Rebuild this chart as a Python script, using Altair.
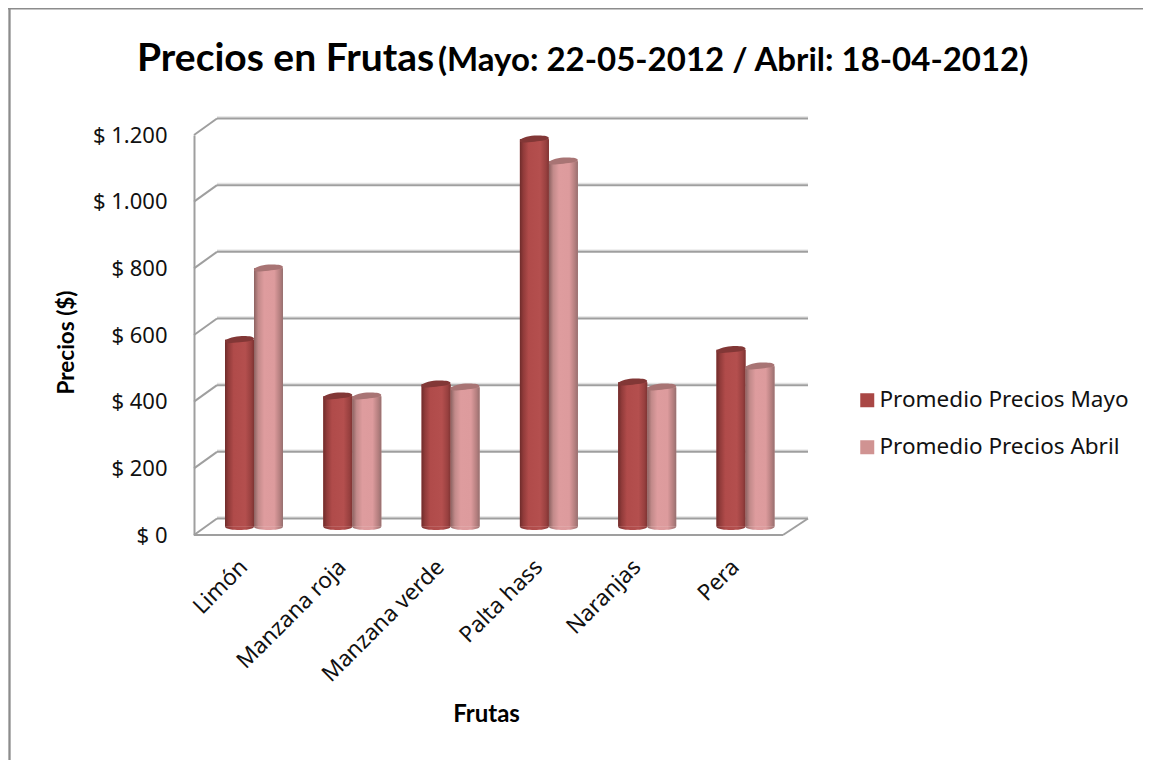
import altair as alt
import pandas as pd

categories = ["Limón", "Manzana roja", "Manzana verde", "Palta hass", "Naranjas", "Pera"]
mayo = [560, 391, 427, 1162, 433, 530]
abril = [775, 391, 418, 1096, 418, 481]
series = ["Promedio Precios Mayo", "Promedio Precios Abril"]
ticks = [0, 200, 400, 600, 800, 1000, 1200]
title_main = "Precios en Frutas"
title_sub = "(Mayo: 22-05-2012 / Abril: 18-04-2012)"
y_title = "Precios ($)"
x_title = "Frutas"

FONT = "Lato"
LABEL_FONT = "Noto Sans"
GRID = "#9f9f9f"
W, H = 614, 400
FRONT_W = 589
BACK_X = 23
DEPTH = 16.5
MID = 8.5
BAR_PX = 29

df = pd.DataFrame(
    [{"cat": c, "serie": series[0], "v": v} for c, v in zip(categories, mayo)]
    + [{"cat": c, "serie": series[1], "v": v} for c, v in zip(categories, abril)]
)
tick_df = pd.DataFrame({"t": ticks})
zero_df = pd.DataFrame({"t": [0]})

y_scale = alt.Scale(domain=[0, 1200], nice=False)
x_scale = alt.Scale(domain=categories, range=[10.85, 600.65], paddingInner=0.41, paddingOuter=0.205)
off_scale = alt.Scale(domain=series)


def gradient(stops):
    return alt.Gradient(
        gradient="linear", x1=0, x2=1, y1=0, y2=0,
        stops=[alt.GradientStop(offset=o, color=c) for o, c in stops],
    )


red_grad = gradient([(0, "#6f2c2b"), (0.12, "#913b3a"), (0.3, "#b04b4a"), (0.7, "#b44f4e"), (0.9, "#98403f"), (1, "#7e3433")])
pink_grad = gradient([(0, "#8c6261"), (0.15, "#c28a8a"), (0.35, "#de9c9e"), (0.7, "#dd9b9d"), (0.9, "#b37e7e"), (1, "#967070")])
TOP_PATH = "M -1 0.14 C -1 -0.06 -0.5 -0.22 0 -0.25 C 0.5 -0.28 1 -0.24 1 -0.08 C 1 0.06 0.5 0.12 0 0.17 C -0.5 0.22 -1 0.3 -1 0.14 Z"
BOTTOM_PATH = "M -1 0 C -1 0.2 -0.4 0.24 0 0.24 C 0.4 0.24 1 0.2 1 0 Z"

x_none = alt.X("cat:N", scale=x_scale, axis=None)
y_none = alt.Y("v:Q", scale=y_scale, axis=None)
xo = alt.XOffset("serie:N", scale=off_scale)

frame_top = alt.Chart(zero_df).mark_rule(color="#8c8c8c", strokeWidth=2.2).encode(
    x=alt.value(-186), x2=alt.value(970), y=alt.value(-126.5))
frame_left = alt.Chart(zero_df).mark_rule(color="#8c8c8c", strokeWidth=2.3).encode(
    x=alt.value(-184.5), y=alt.value(-128), y2=alt.value(630))

grid_shadow = alt.Chart(tick_df).mark_rule(color="#e2e2e2", strokeWidth=1.5, yOffset=-DEPTH - 1.6).encode(
    y=alt.Y("t:Q", scale=y_scale, axis=None), x=alt.value(BACK_X), x2=alt.value(W))
grid = alt.Chart(tick_df).mark_rule(color=GRID, strokeWidth=2, yOffset=-DEPTH).encode(
    y=alt.Y("t:Q", scale=y_scale, axis=None), x=alt.value(BACK_X), x2=alt.value(W))
diag = alt.Chart(tick_df).mark_rule(color=GRID, strokeWidth=2, y2Offset=-DEPTH).encode(
    x=alt.value(0), x2=alt.value(BACK_X),
    y=alt.Y("t:Q", scale=y_scale, axis=None), y2=alt.Y2("t:Q"))
floor_front = alt.Chart(zero_df).mark_rule(color=GRID, strokeWidth=2).encode(
    y=alt.Y("t:Q", scale=y_scale, axis=None), x=alt.value(0), x2=alt.value(FRONT_W))
floor_right = alt.Chart(zero_df).mark_rule(color=GRID, strokeWidth=2, y2Offset=-DEPTH).encode(
    x=alt.value(FRONT_W), x2=alt.value(W),
    y=alt.Y("t:Q", scale=y_scale, axis=None), y2=alt.Y2("t:Q"))

base_bars = alt.Chart(df).mark_bar(yOffset=-MID, y2Offset=-MID).encode(
    x=alt.X("cat:N", scale=x_scale, sort=categories, title=x_title,
            axis=alt.Axis(labelAngle=-45, labelAlign="right", labelBaseline="middle",
                          labelFont=LABEL_FONT, labelFontSize=22.5, labelColor="#111111",
                          labelPadding=28, labelOffset=-10, labelOverlap=False, ticks=False, domain=False, grid=False,
                          titleFont=FONT, titleFontSize=24, titleFontWeight="bold", titleColor="black",
                          titleX=292, titleY=179, titleBaseline="middle", titleAlign="center")),
    xOffset=xo,
    y=alt.Y("v:Q", scale=y_scale, title=y_title,
            axis=alt.Axis(values=ticks, labelExpr="'$ ' + replace(format(datum.value, ','), ',', '.')",
                          labelFont=LABEL_FONT, labelFontSize=22, labelColor="#111111", labelPadding=27,
                          ticks=False, grid=False, domainColor=GRID, domainWidth=2,
                          titleFont=FONT, titleFontSize=22.5, titleFontWeight="bold", titleColor="black",
                          titleX=-128, titleY=207, titleAngle=-90, titleBaseline="middle", titleAlign="center")),
    y2=alt.datum(0),
    color=alt.Color("serie:N", scale=alt.Scale(domain=series, range=["#a94745", "#d09392"]),
                    legend=alt.Legend(title=None, orient="none", legendX=662, legendY=254,
                                      symbolType="square", symbolSize=196, symbolStrokeWidth=0,
                                      labelFont=LABEL_FONT, labelFontSize=22.5, labelColor="#111111",
                                      labelOffset=1, rowPadding=24, labelLimit=300)),
)

layers = [frame_top, frame_left, grid_shadow, grid, diag, floor_front, floor_right, base_bars]

for name, grad, cap in [(series[0], red_grad, "#823736"), (series[1], pink_grad, "#a87474")]:
    sub = df[df.serie == name]
    layers.append(alt.Chart(sub).mark_point(shape=BOTTOM_PATH, filled=True, fill=grad, opacity=1,
                                            size=BAR_PX ** 2, strokeWidth=0, yOffset=-MID).encode(
        x=x_none, xOffset=xo, y=alt.Y("z:Q", scale=y_scale, axis=None)).transform_calculate(z="0"))
    layers.append(alt.Chart(sub).mark_bar(fill=grad, yOffset=-MID, y2Offset=-MID).encode(
        x=x_none, xOffset=xo, y=y_none, y2=alt.datum(0)))
    layers.append(alt.Chart(sub).mark_point(shape=TOP_PATH, filled=True, fill=cap, opacity=1,
                                            size=BAR_PX ** 2, strokeWidth=0, yOffset=-MID).encode(
        x=x_none, xOffset=xo, y=y_none))

t1 = alt.Chart(zero_df).mark_text(font=FONT, fontWeight="bold", fontSize=39, align="left", baseline="alphabetic", color="black").encode(
    x=alt.value(-57), y=alt.value(-64), text=alt.value(title_main))
t2 = alt.Chart(zero_df).mark_text(font=FONT, fontWeight="bold", fontSize=33, align="left", baseline="alphabetic", color="black").encode(
    x=alt.value(244), y=alt.value(-64), text=alt.value(title_sub))
layers += [t1, t2]

chart = alt.layer(*layers).resolve_scale(color="independent").resolve_axis(x="independent", y="independent").properties(
    width=W, height=H,
    padding={"left": 186, "top": 127, "right": 335, "bottom": 225},
    autosize=alt.AutoSizeParams(type="none"),
    background="white",
).configure_view(stroke=None)

chart.save("out.html", embed_options={"renderer": "svg", "actions": False})
